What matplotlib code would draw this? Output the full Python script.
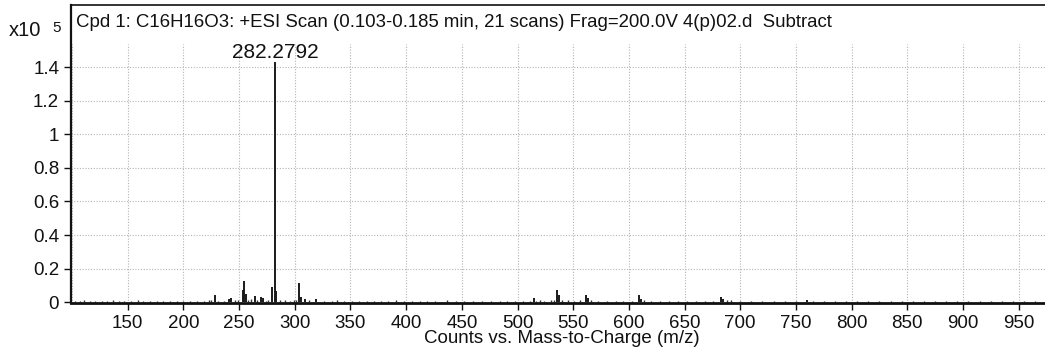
import numpy as np
import matplotlib
matplotlib.use('Agg')
import matplotlib.pyplot as plt

plt.rcParams['font.family'] = ['Liberation Sans', 'DejaVu Sans']

# main ions (m/z, counts x10^5)
peak_mz = [228.0, 240.5, 243.0, 253.6, 254.8, 256.0, 263.8, 269.5, 271.0,
           279.4, 282.2792, 283.3, 303.6, 305.5, 309.5, 318.6,
           514.4, 535.4, 537.5, 561.5, 563.0, 608.8, 610.5, 682.3, 684.5, 760.0]
peak_int = [0.044, 0.018, 0.022, 0.075, 0.124, 0.050, 0.034, 0.028, 0.026,
            0.090, 1.430, 0.066, 0.114, 0.030, 0.018, 0.020,
            0.022, 0.070, 0.040, 0.040, 0.022, 0.040, 0.020, 0.030, 0.020, 0.014]

# low-level background ions
noise_mz = [103, 107, 111, 116, 121, 127, 131, 137, 142, 147, 153, 159, 164,
            170, 176, 182, 188, 194, 200, 206, 212, 218, 223, 225, 231, 236,
            246, 249, 258, 261, 266, 274, 276, 287, 291, 296, 299, 301, 313,
            326, 333, 338, 344, 351, 358, 365, 371, 377, 384, 391, 398, 405,
            412, 419, 426, 437, 445, 452, 460, 468, 476, 484, 491, 498, 505,
            511, 517, 520, 524, 530, 533, 540, 545, 551, 556, 566, 572, 580,
            588, 595, 603, 614, 620, 628, 636, 644, 652, 660, 668, 676, 688,
            692, 700, 710, 720, 730, 740, 750, 765, 775, 785, 795, 805, 815,
            825, 835, 845, 855, 865, 875, 885, 895, 905, 915, 925, 935, 945,
            955, 965, 975]
noise_int = [0.008, 0.006, 0.010, 0.006, 0.007, 0.005, 0.006, 0.010, 0.006,
             0.007, 0.006, 0.012, 0.006, 0.007, 0.005, 0.008, 0.006, 0.007,
             0.005, 0.006, 0.007, 0.006, 0.010, 0.012, 0.008, 0.007, 0.012,
             0.010, 0.015, 0.018, 0.012, 0.008, 0.010, 0.012, 0.010, 0.008,
             0.012, 0.014, 0.010, 0.008, 0.006, 0.010, 0.006, 0.008, 0.006,
             0.007, 0.006, 0.008, 0.006, 0.010, 0.006, 0.007, 0.006, 0.007,
             0.006, 0.010, 0.005, 0.006, 0.005, 0.006, 0.006, 0.005, 0.006,
             0.005, 0.006, 0.008, 0.008, 0.010, 0.008, 0.010, 0.012, 0.012,
             0.010, 0.008, 0.012, 0.010, 0.008, 0.006, 0.006, 0.008, 0.006,
             0.010, 0.008, 0.006, 0.006, 0.005, 0.006, 0.005, 0.006, 0.005,
             0.012, 0.010, 0.008, 0.006, 0.006, 0.005, 0.006, 0.005, 0.006,
             0.005, 0.005, 0.006, 0.005, 0.005, 0.005, 0.006, 0.005, 0.005,
             0.005, 0.005, 0.005, 0.005, 0.005, 0.005, 0.005, 0.005, 0.005,
             0.005, 0.005, 0.005]

xticks = list(range(150, 951, 50))
yticks = [0, 0.2, 0.4, 0.6, 0.8, 1.0, 1.2, 1.4]
ytick_labels = ['0', '0.2', '0.4', '0.6', '0.8', '1', '1.2', '1.4']
title = ('Cpd 1: C16H16O3: +ESI Scan (0.103-0.185 min, 21 scans) '
         'Frag=200.0V 4(p)02.d  Subtract')
base_label = '282.2792'

W, H = 1045, 352
fig = plt.figure(figsize=(W / 100, H / 100), dpi=100)
ax = fig.add_axes([71 / W, 1 - 303 / H, 981 / W, 298 / H])

ymin, ymax = -0.005, 1.77
grid_top = 1.54
ax.set_xlim(99, 980)
ax.set_ylim(ymin, ymax)

# grid stops below the title strip
gfrac = (grid_top - ymin) / (ymax - ymin)
for x in [100] + xticks:
    ax.axvline(x, ymin=0, ymax=gfrac, color='#b4b4b4', lw=0.8,
               ls=(0, (1, 1.5)), zorder=0)
for y in yticks[1:]:
    ax.axhline(y, color='#b4b4b4', lw=0.8, ls=(0, (1, 1.5)), zorder=0)

ax.vlines(noise_mz, 0, noise_int, color='#333333', lw=1.0, zorder=2)
ax.vlines(peak_mz, 0, peak_int, color='#1a1a1a', lw=1.4, zorder=3)

# label the base peak
i = int(np.argmax(peak_int))
ax.text(peak_mz[i], peak_int[i], base_label, ha='center', va='bottom',
        fontsize=15, color='#111111')

ax.set_xticks(xticks)
ax.set_xticklabels([str(t) for t in xticks])
ax.set_yticks(yticks)
ax.set_yticklabels(ytick_labels)
ax.tick_params(axis='both', direction='out', length=5, width=1.0,
               labelsize=13.5, pad=3.5, colors='#111111')
ax.set_xlabel('Counts vs. Mass-to-Charge (m/z)', fontsize=13.5,
              labelpad=-1, color='#111111')

ax.spines['right'].set_visible(False)
ax.spines['left'].set_linewidth(1.6)
ax.spines['bottom'].set_linewidth(2.0)
ax.spines['top'].set_linewidth(1.2)
for s in ax.spines.values():
    s.set_color('#111111')

fig.text(76 / W, 1 - 27 / H, title, fontsize=13.4, va='baseline',
         ha='left', color='#111111')
fig.text(9 / W, 1 - 36 / H, 'x10', fontsize=14.5, va='baseline',
         ha='left', color='#111111')
fig.text(52 / W, 1 - 32 / H, '5', fontsize=11, va='baseline',
         ha='left', color='#111111')

fig.savefig('out.png', dpi=100)
